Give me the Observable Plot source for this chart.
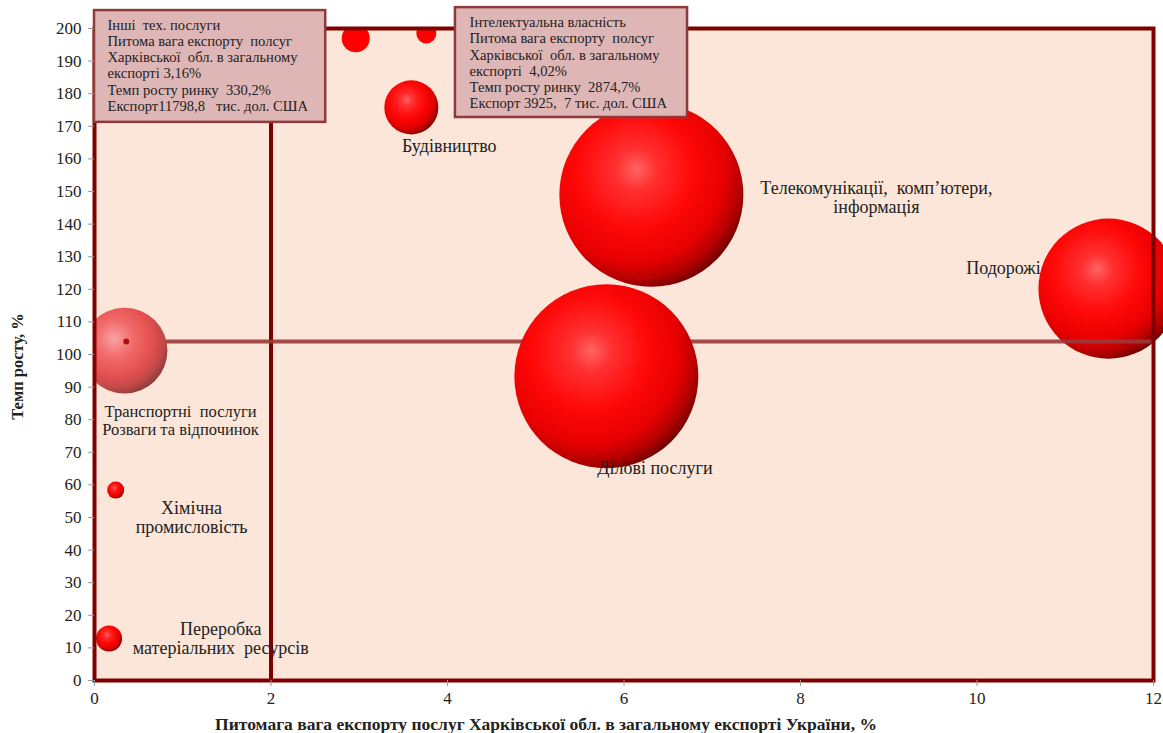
<!DOCTYPE html>
<html><head><meta charset="utf-8">
<script src="https://cdn.jsdelivr.net/npm/d3@7"></script>
<script src="https://cdn.jsdelivr.net/npm/@observablehq/plot@0.6"></script>
<style>body{margin:0;background:#fff;} #chart svg{display:block}</style>
</head><body><div id="chart"></div>
<script>
// Bubble data: share of Kharkiv region in Ukraine's services export (%), growth rate (%), export volume (est., thous. USD)
const names  = ["Інші тех. послуги", "Інтелектуальна власність", "Будівництво", "Телекомунікації, комп’ютери, інформація", "Ділові послуги", "Подорожі", "Транспортні послуги, Розваги та відпочинок", "Хімічна промисловість", "Переробка матеріальних ресурсів"];
const share  = [2.96, 3.76, 3.59, 6.31, 5.80, 11.49, 0.34, 0.24, 0.165];
const growth = [197, 198.5, 175.8, 149, 93.3, 120.2, 101.2, 58.4, 12.9];
const exportVol = [11798.8, 6000, 43900, 509000, 509000, 295000, 111000, 4350, 10200];
const shade  = ["flat", "flat", "sphere", "sphere", "sphere", "sphere", "light", "sphere", "sphere"];

const xTicks = [0, 2, 4, 6, 8, 10, 12];
const yTicks = d3.range(0, 201, 10);

// reference lines
const vLines = [{x: 2}];
const hLines = [{y: 104, x1: 0.8, x2: 12}];
const markerDot = [{x: 0.36, y: 104}];

// bubble labels
const labelText = ["Будівництво", "Телекомунікації,  комп’ютери,\nінформація", "Подорожі", "Ділові послуги", "Транспортні  послуги\nРозваги та відпочинок", "Хімічна\nпромисловість", "Переробка\nматеріальних  ресурсів"];
const labelX = [4.02, 8.86, 10.30, 6.35, 0.975, 1.10, 1.43];
const labelY = [164.1, 148.2, 126.7, 65.3, 79.8, 50.0, 12.9];
const labelSize = [18, 18, 18, 18, 16.5, 18, 18];

// callout boxes
const boxText = [
  "Інші  тех. послуги\nПитома вага експорту  полсуг\nХарківської  обл. в загальному\nекспорті 3,16%\nТемп росту ринку  330,2%\nЕкспорт11798,8   тис. дол. США",
  "Інтелектуальна власність\nПитома вага експорту  полсуг\nХарківської  обл. в загальному\nекспорті  4,02%\nТемп росту ринку  2874,7%\nЕкспорт 3925,  7 тис. дол. США"
];
const boxX1 = [0.0, 4.09], boxX2 = [2.62, 6.72], boxY1 = [171.2, 172.7], boxY2 = [205.5, 206.4];
const boxTextX = [0.147, 4.25], boxTextY = [188.7, 189.6];

const xLabel = "Питомага вага експорту послуг Харківської обл. в загальному експорті України, %";
const yLabel = "Темп росту, %";

const bubbles = names.map((n, i) => ({name: n, x: share[i], y: growth[i], v: exportVol[i], shade: shade[i]}));
const labels = labelText.map((t, i) => ({t, x: labelX[i], y: labelY[i], s: labelSize[i]}));
const boxes = boxText.map((t, i) => ({t, x1: boxX1[i], x2: boxX2[i], y1: boxY1[i], y2: boxY2[i], tx: boxTextX[i], ty: boxTextY[i]}));

const travel = bubbles.filter(d => d.name === "Подорожі");
const spheres = bubbles.filter(d => d.shade === "sphere" && d.name !== "Подорожі");
const flats = bubbles.filter(d => d.shade === "flat");
const lights = bubbles.filter(d => d.shade === "light");

const chart = Plot.plot({
  width: 1163, height: 733,
  marginLeft: 94, marginRight: 10, marginTop: 28, marginBottom: 53,
  style: {fontFamily: "'Liberation Serif', 'Times New Roman', serif", fontSize: "17px", color: "#222", background: "#fff"},
  x: {domain: [0, 12]},
  y: {domain: [0, 200]},
  r: {type: "sqrt", domain: [0, 509000], range: [0, 92]},
  marks: [
    Plot.frame({fill: "#fbe6d9", stroke: null}),
    Plot.ruleX(vLines, {x: "x", stroke: "#800000", strokeWidth: 4}),
    Plot.dot(travel, {x: "x", y: "y", r: "v", fill: "url(#sphereB)", stroke: null}),
    Plot.ruleY(hLines, {y: "y", x1: "x1", x2: "x2", stroke: "#9a3838", strokeWidth: 4, strokeOpacity: 0.9}),
    Plot.dot(flats, {x: "x", y: "y", r: "v", fill: "#ff0000", stroke: null, clip: true}),
    Plot.dot(lights, {x: "x", y: "y", r: "v", fill: "url(#light)", stroke: null, clip: true}),
    Plot.dot(markerDot, {x: "x", y: "y", r: 3, fill: "#b01010", stroke: null}),
    Plot.dot(spheres, {x: "x", y: "y", r: "v", fill: "url(#sphere)", stroke: null, clip: true}),
    Plot.frame({stroke: "#800000", strokeWidth: 4}),
    Plot.rect(boxes, {x1: "x1", x2: "x2", y1: "y1", y2: "y2", fill: "#dfb6b6", stroke: "#8c3a3a", strokeWidth: 2.5}),
    Plot.text(boxes, {x: "tx", y: "ty", text: "t", textAnchor: "start", lineAnchor: "middle", fontSize: 14.6, lineHeight: 1.1, fill: "#222"}),
    Plot.text(labels, {x: "x", y: "y", text: "t", textAnchor: "middle", lineAnchor: "middle", fontSize: "s", lineHeight: 1.07, fill: "#222"}),
    Plot.axisX({ticks: xTicks, tickSize: 6, tickPadding: 5, stroke: "#999", label: null, fontSize: 17}),
    Plot.axisY({ticks: yTicks, tickSize: 6, tickPadding: 7, stroke: "#999", label: null, fontSize: 17}),
    Plot.text([xLabel], {frameAnchor: "bottom", textAnchor: "middle", lineAnchor: "middle", dx: -78, dy: 44, fontWeight: "bold", fontSize: 17.5, fill: "#222"}),
    Plot.text([yLabel], {frameAnchor: "left", textAnchor: "middle", lineAnchor: "middle", rotate: -90, dx: -77, dy: 12, fontWeight: "bold", fontSize: 16.5, fill: "#222"})
  ]
});

const svg = d3.select(chart);
const defs = svg.insert("defs", ":first-child");
const sphereStops = [[0, "#ff6464"], [0.15, "#ff3030"], [0.42, "#ff0808"], [0.66, "#e60000"], [0.78, "#b50000"], [0.88, "#6e0000"], [1, "#4a0000"]];
["sphere", "sphereB"].forEach(id => {
  const g = defs.append("radialGradient").attr("id", id)
    .attr("cx", "0.4").attr("cy", "0.38").attr("r", "0.75").attr("fx", "0.42").attr("fy", "0.36");
  sphereStops.forEach(([o, c]) => g.append("stop").attr("offset", o).attr("stop-color", c));
});
const g2 = defs.append("radialGradient").attr("id", "light")
  .attr("cx", "0.4").attr("cy", "0.38").attr("r", "0.72").attr("fx", "0.38").attr("fy", "0.36");
[[0, "#f9a2a2"], [0.3, "#f26a6a"], [0.6, "#e45050"], [0.78, "#c04848"], [0.9, "#8f3c3c"], [1, "#7a3535"]]
  .forEach(([o, c]) => g2.append("stop").attr("offset", o).attr("stop-color", c));

// clip bubbles (except "Подорожі") to the plot frame, using a wrapping group
const xs = chart.scale("x").range, ys = chart.scale("y").range;
const fx0 = Math.min(...xs), fx1 = Math.max(...xs), fy0 = Math.min(...ys), fy1 = Math.max(...ys);
defs.append("clipPath").attr("id", "frameClip").attr("clipPathUnits", "userSpaceOnUse").append("rect")
  .attr("x", fx0).attr("y", fy0).attr("width", fx1 - fx0).attr("height", fy1 - fy0);
const clipFills = new Set(["url(#sphere)", "url(#light)", "#ff0000"]);
Array.from(chart.querySelectorAll("g")).forEach(g => {
  const f = g.getAttribute("fill");
  if (g.parentNode === chart && f && clipFills.has(f.replace(/"/g, ""))) {
    const wrap = document.createElementNS("http://www.w3.org/2000/svg", "g");
    wrap.setAttribute("clip-path", "url(#frameClip)");
    chart.insertBefore(wrap, g);
    wrap.appendChild(g);
  }
});

document.getElementById("chart").appendChild(chart);
</script>
</body></html>
